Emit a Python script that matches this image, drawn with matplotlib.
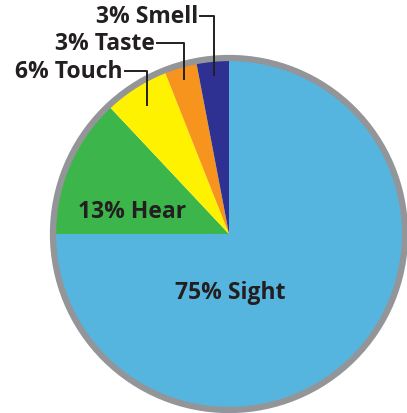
import numpy as np
import matplotlib
matplotlib.use('Agg')
import matplotlib.pyplot as plt

# ── Data ───────────────────────────────────────────────────────────────────────
senses  = ['Sight', 'Hear', 'Touch', 'Taste', 'Smell']
percent = [75, 13, 6, 3, 3]
colors  = ['#55b5df', '#3cb64b', '#fff200', '#f7941d', '#2e3192']

W, H = 407, 414
CX, CY, R = 229, H - 235, 176
TEXT = '#231f20'
FONT = 'Open Sans'
FS = 16.5

fig = plt.figure(figsize=(W / 100, H / 100), dpi=100)
ax = fig.add_axes([0, 0, 1, 1])

wedges, _ = ax.pie(percent, colors=colors, startangle=90, counterclock=False,
                   center=(CX, CY), radius=R, frame=True,
                   wedgeprops=dict(linewidth=0))
ax.set_xlim(0, W)
ax.set_ylim(0, H)
ax.set_aspect('equal')
ax.axis('off')

# grey rim
rim = plt.Circle((CX, CY), R, facecolor='none', edgecolor='#939598', linewidth=4.5, zorder=4)
ax.add_patch(rim)

# ── Inside labels ─────────────────────────────────────────────────────────────
ax.text(230, H - 293, f'{percent[0]}% {senses[0]}', ha='center', va='center',
        fontsize=FS, fontweight='bold', family=FONT, color=TEXT, zorder=5)
ax.text(132, H - 212, f'{percent[1]}% {senses[1]}', ha='center', va='center',
        fontsize=FS, fontweight='bold', family=FONT, color=TEXT, zorder=5)

# ── Outside labels with elbow leaders ─────────────────────────────────────────
label_pos = {'Touch': (123, H - 72), 'Taste': (155, H - 44), 'Smell': (198, H - 17)}
leader_r  = {'Touch': 0.87, 'Taste': 0.92, 'Smell': 0.91}
for w, name, p in zip(wedges, senses, percent):
    if name not in label_pos:
        continue
    tx, ty = label_pos[name]
    mid = np.deg2rad((w.theta1 + w.theta2) / 2)
    px = CX + leader_r[name] * R * np.cos(mid)
    py = CY + leader_r[name] * R * np.sin(mid)
    ax.plot([tx + 2, px, px], [ty, ty, py], color=TEXT, linewidth=1.4, zorder=6)
    ax.text(tx, ty, f'{p}% {name}', ha='right', va='center',
            fontsize=FS, fontweight='bold', family=FONT, color=TEXT, zorder=6)

fig.savefig('out.png', dpi=100)
